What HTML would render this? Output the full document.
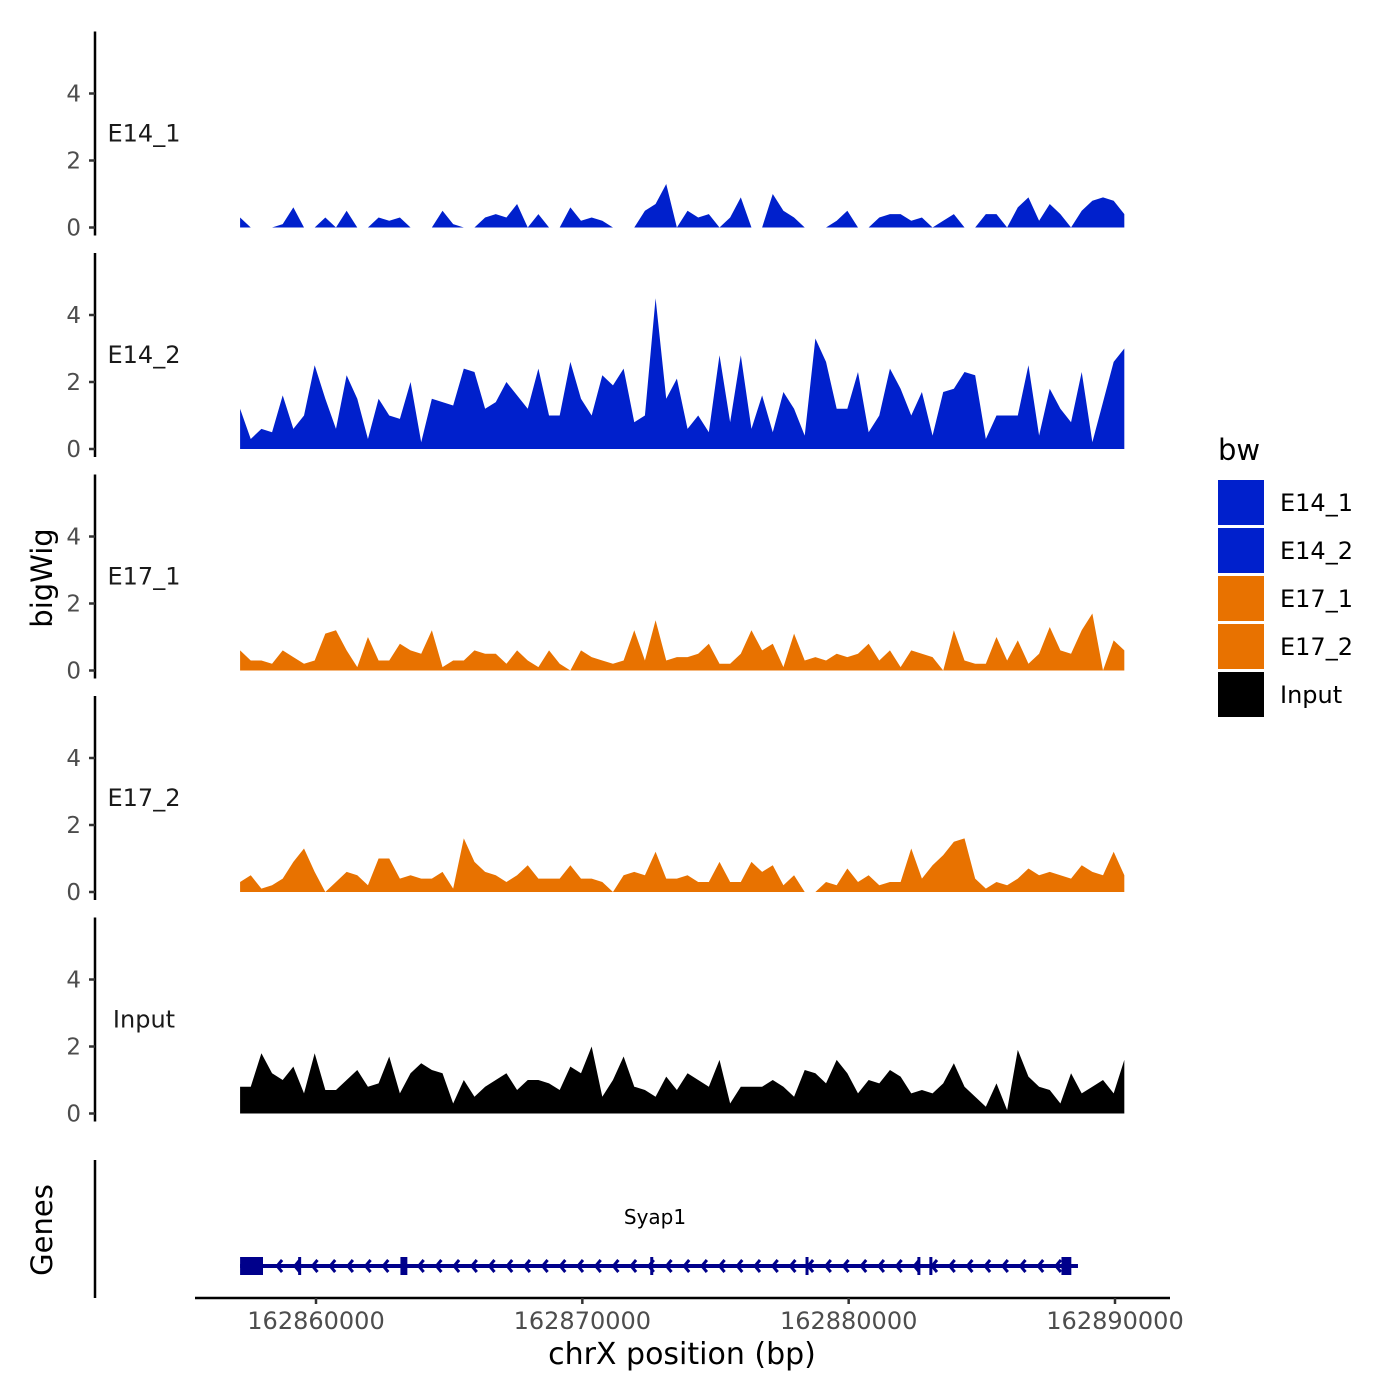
<!DOCTYPE html>
<html><head><meta charset="utf-8"><style>
html,body{margin:0;padding:0;background:#fff;}
svg{display:block;font-family:"DejaVu Sans","Liberation Sans",sans-serif;}
</style></head><body>
<svg id="chart" width="1400" height="1400" viewBox="0 0 1400 1400" xmlns="http://www.w3.org/2000/svg">
<rect width="1400" height="1400" fill="#fff"/>
<g id="tracks"></g>
<g id="genes"></g>
<g id="xaxis"></g>
<text x="42" y="578" transform="rotate(-90 42 578)" text-anchor="middle" dominant-baseline="central" font-size="29" fill="#000">bigWig</text>
<text x="42" y="1230" transform="rotate(-90 42 1230)" text-anchor="middle" dominant-baseline="central" font-size="29" fill="#000">Genes</text>
<text x="682" y="1364" text-anchor="middle" font-size="30" fill="#000">chrX position (bp)</text>
<g id="legend"></g>
</svg>
<script>
const binStart = 162857150;
const binSize = 400;
const trackNames = ["E14_1","E14_2","E17_1","E17_2","Input"];
const trackColors = ["#0020cc","#0020cc","#e87200","#e87200","#000000"];
const e14_1 = [0.3,0,0,0,0.1,0.6,0,0,0.3,0,0.5,0,0,0.3,0.2,0.3,0,0,0,0.5,0.1,0,0,0.3,0.4,0.3,0.7,0,0.4,0,0,0.6,0.2,0.3,0.2,0,0,0,0.5,0.7,1.3,0,0.5,0.3,0.4,0,0.3,0.9,0,0,1.0,0.5,0.3,0,0,0,0.2,0.5,0,0,0.3,0.4,0.4,0.2,0.3,0,0.2,0.4,0,0,0.4,0.4,0,0.6,0.9,0.2,0.7,0.4,0,0.5,0.8,0.9,0.8,0.4];
const e14_2 = [1.2,0.3,0.6,0.5,1.6,0.6,1.0,2.5,1.5,0.6,2.2,1.5,0.3,1.5,1.0,0.9,2.0,0.2,1.5,1.4,1.3,2.4,2.3,1.2,1.4,2.0,1.6,1.2,2.4,1.0,1.0,2.6,1.5,1.0,2.2,1.9,2.4,0.8,1.0,4.5,1.5,2.1,0.6,1.0,0.5,2.8,0.8,2.8,0.6,1.6,0.5,1.7,1.2,0.4,3.3,2.6,1.2,1.2,2.3,0.5,1.0,2.4,1.8,1.0,1.7,0.4,1.7,1.8,2.3,2.2,0.3,1.0,1.0,1.0,2.5,0.4,1.8,1.2,0.8,2.3,0.2,1.4,2.6,3.0];
const e17_1 = [0.6,0.3,0.3,0.2,0.6,0.4,0.2,0.3,1.1,1.2,0.6,0.1,1.0,0.3,0.3,0.8,0.6,0.5,1.2,0.1,0.3,0.3,0.6,0.5,0.5,0.2,0.6,0.3,0.1,0.6,0.2,0,0.6,0.4,0.3,0.2,0.3,1.2,0.3,1.5,0.3,0.4,0.4,0.5,0.8,0.2,0.2,0.5,1.2,0.6,0.8,0.1,1.1,0.3,0.4,0.3,0.5,0.4,0.5,0.8,0.3,0.6,0.1,0.6,0.5,0.4,0,1.2,0.3,0.2,0.2,1.0,0.3,0.9,0.2,0.5,1.3,0.6,0.5,1.2,1.7,0,0.9,0.6];
const e17_2 = [0.3,0.5,0.1,0.2,0.4,0.9,1.3,0.6,0,0.3,0.6,0.5,0.2,1.0,1.0,0.4,0.5,0.4,0.4,0.6,0.1,1.6,0.9,0.6,0.5,0.3,0.5,0.8,0.4,0.4,0.4,0.8,0.4,0.4,0.3,0,0.5,0.6,0.5,1.2,0.4,0.4,0.5,0.3,0.3,0.9,0.3,0.3,0.9,0.6,0.8,0.2,0.5,0,0,0.3,0.2,0.7,0.3,0.5,0.2,0.3,0.3,1.3,0.4,0.8,1.1,1.5,1.6,0.4,0.1,0.3,0.2,0.4,0.7,0.5,0.6,0.5,0.4,0.8,0.6,0.5,1.2,0.5];
const input = [0.8,0.8,1.8,1.2,1.0,1.4,0.6,1.8,0.7,0.7,1.0,1.3,0.8,0.9,1.7,0.6,1.2,1.5,1.3,1.2,0.3,1.0,0.5,0.8,1.0,1.2,0.7,1.0,1.0,0.9,0.7,1.4,1.2,2.0,0.5,1.0,1.7,0.8,0.7,0.5,1.1,0.7,1.2,1.0,0.8,1.6,0.3,0.8,0.8,0.8,1.0,0.8,0.5,1.3,1.2,0.9,1.6,1.2,0.6,1.0,0.9,1.3,1.1,0.6,0.7,0.6,0.9,1.5,0.8,0.5,0.2,0.9,0.1,1.9,1.1,0.8,0.7,0.3,1.2,0.6,0.8,1.0,0.6,1.6];
const yTicks = [0,2,4];
const xTicks = [162860000,162870000,162880000,162890000];
const xTickLabels = ["162860000","162870000","162880000","162890000"];
const geneStart = 162857150;
const geneEnd = 162888610;
const exonStarts = [162857150,162859330,162863170,162872550,162878380,162882580,162883030,162887990];
const exonEnds = [162858010,162859420,162863430,162872640,162878440,162882640,162883090,162888360];
const geneName = "Syap1";

const series = [e14_1,e14_2,e17_1,e17_2,input];
const NS = "http://www.w3.org/2000/svg";
function mk(tag, attrs, parent){const e=document.createElementNS(NS,tag);for(const k in attrs)e.setAttribute(k,attrs[k]);parent.appendChild(e);return e;}
function xs(bp){return 316 + (bp-162860000)*(1115-316)/30000;}
const unit = 33.5;
const zero0 = 227.5, panelStep = 221.5;
const tracks = document.getElementById('tracks');
series.forEach((vals,p)=>{
  const z = zero0 + p*panelStep;
  const ys = v => z - v*unit;
  const g = mk('g',{},tracks);
  
  
  const ax = mk('line',{x1:95,x2:95,y1:z-196,y2:z+8,stroke:'#000','stroke-width':2.5},g);
  
  
  yTicks.forEach(t=>{
    const tk = mk('line',{x1:89,x2:95,y1:ys(t),y2:ys(t),stroke:'#333','stroke-width':2.5},g);
    
    
    const tl = mk('text',{x:81,y:ys(t)+8,'text-anchor':'end','font-size':23,fill:'#4d4d4d'},g);
    tl.textContent = t;
    
    
  });
  const lab = mk('text',{x:144,y:ys(2.8)+8,'text-anchor':'middle','font-size':24,fill:'#1a1a1a'},g);
  lab.textContent = trackNames[p];
  
  
  let d = 'M'+xs(binStart)+','+z;
  vals.forEach((v,i)=>{ d += ' L'+xs(binStart+i*binSize).toFixed(2)+','+ys(v).toFixed(2); });
  d += ' L'+xs(binStart+(vals.length-1)*binSize).toFixed(2)+','+z+' Z';
  const area = mk('path',{d:d,fill:trackColors[p]},g);
  
  
});
const gg = document.getElementById('genes');
const gax = mk('line',{x1:95,x2:95,y1:1160,y2:1298,stroke:'#000','stroke-width':2.5},gg);


const gy = 1266;
const gl = mk('line',{x1:xs(geneStart),x2:xs(geneEnd),y1:gy,y2:gy,stroke:'#00008b','stroke-width':4},gg);


for(let x=xs(geneStart)+37;x<xs(geneEnd)-8;x+=17.7){
  const a = mk('polyline',{points:(x+5)+','+(gy-6)+' '+x+','+gy+' '+(x+5)+','+(gy+6),fill:'none',stroke:'#00008b','stroke-width':3},gg);
  
  
}
exonStarts.forEach((s,i)=>{
  const x1 = xs(s), x2 = xs(exonEnds[i]);
  const r = mk('rect',{x:x1,y:gy-9,width:Math.max(3,x2-x1),height:18,fill:'#00008b'},gg);
  
  
});
const gn = mk('text',{x:655,y:1224,'text-anchor':'middle','font-size':20,fill:'#000'},gg);
gn.textContent = geneName;


const xa = document.getElementById('xaxis');
const xl = mk('line',{x1:195,x2:1170,y1:1298,y2:1298,stroke:'#000','stroke-width':2.5},xa);


xTicks.forEach((t,i)=>{
  const tk = mk('line',{x1:xs(t),x2:xs(t),y1:1298,y2:1304,stroke:'#333','stroke-width':2.5},xa);
  
  
  const tl = mk('text',{x:xs(t),y:1329,'text-anchor':'middle','font-size':24,fill:'#4d4d4d'},xa);
  tl.textContent = xTickLabels[i];
  
  
});
const lg = document.getElementById('legend');
const lt = mk('text',{x:1218,y:460,'font-size':29,fill:'#000'},lg);
lt.textContent = 'bw';


const legColors = ["#0020cc","#0020cc","#e87200","#e87200","#000000"];
trackNames.forEach((n,i)=>{
  const y = 480 + i*48;
  const r = mk('rect',{x:1218,y:y,width:46,height:45,fill:legColors[i]},lg);
  
  
  const t = mk('text',{x:1280,y:y+31,'font-size':24,fill:'#000'},lg);
  t.textContent = n;
  
  
});
</script>
</body></html>
